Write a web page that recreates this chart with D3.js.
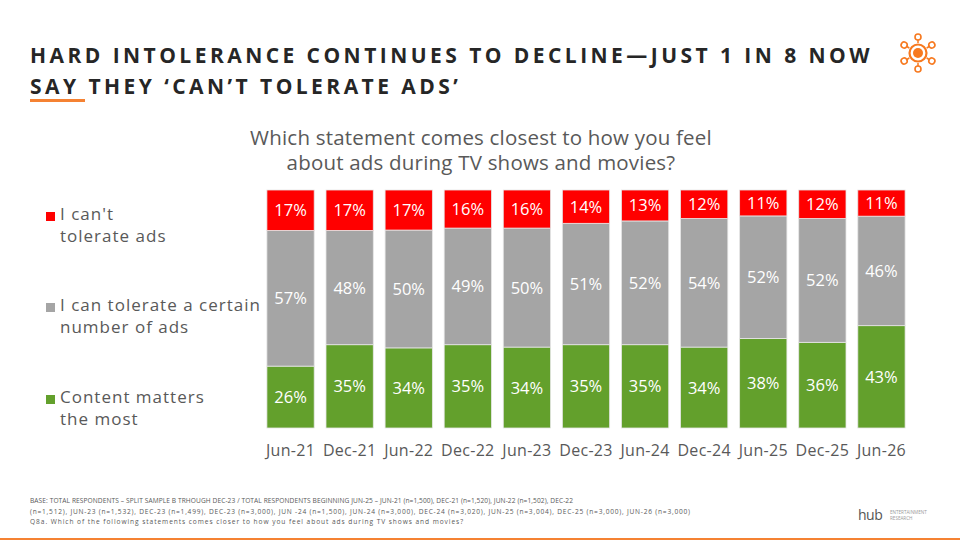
<!DOCTYPE html>
<html>
<head>
<meta charset="utf-8">
<script src="https://cdn.jsdelivr.net/npm/d3@7"></script>
<style>
  body { margin: 0; background: #fff; }
  svg { display: block; font-family: "Open Sans", "DejaVu Sans", sans-serif; }
</style>
</head>
<body>
<script>
var w = 960;
var h = 540;

// data
var waves = ["Jun-21", "Dec-21", "Jun-22", "Dec-22", "Jun-23", "Dec-23", "Jun-24", "Dec-24", "Jun-25", "Dec-25", "Jun-26"];
var cantTolerate = [17, 17, 17, 16, 16, 14, 13, 12, 11, 12, 11];
var tolerateSome = [57, 48, 50, 49, 50, 51, 52, 54, 52, 52, 46];
var contentMatters = [26, 35, 34, 35, 34, 35, 35, 34, 38, 36, 43];

var seriesNames = ["I can't tolerate ads", "I can tolerate a certain number of ads", "Content matters the most"];
var seriesColors = ["#ff0000", "#a5a5a5", "#63a02c"];

var titleLines = ["HARD INTOLERANCE CONTINUES TO DECLINE\u2014JUST 1 IN 8 NOW", "SAY THEY \u2018CAN\u2019T TOLERATE ADS\u2019"];
var questionLines = ["Which statement comes closest to how you feel", "about ads during TV shows and movies?"];
var legendLines = [["I can't", "tolerate ads"], ["I can tolerate a certain", "number of ads"], ["Content matters", "the most"]];
var baseLines = [
    "BASE: TOTAL RESPONDENTS \u2013 SPLIT SAMPLE B TRHOUGH DEC-23 / TOTAL RESPONDENTS BEGINNING JUN-25 \u2013 JUN-21 (n=1,500), DEC-21 (n=1,520), JUN-22 (n=1,502), DEC-22",
    "(n=1,512), JUN-23 (n=1,532), DEC-23 (n=1,499), DEC-23 (n=3,000), JUN -24 (n=1,500), JUN-24 (n=3,000), DEC-24 (n=3,020), JUN-25 (n=3,004), DEC-25 (n=3,000), JUN-26 (n=3,000)",
    "Q8a. Which of the following statements comes closer to how you feel about ads during TV shows and movies?"
];
var baseWidths = [543, 660, 433];

var rows = waves.map(function (d, i) {
    return { wave: d, red: cantTolerate[i], gray: tolerateSome[i], green: contentMatters[i] };
});
// stack bottom-up: green, gray, red; each bar normalised to its own total
var keys = ["green", "gray", "red"];
var keyColor = { red: seriesColors[0], gray: seriesColors[1], green: seriesColors[2] };
var stack = d3.stack().keys(keys).offset(d3.stackOffsetExpand);
var layers = stack(rows);

var svg = d3.select("body")
    .append("svg")
    .attr("width", w)
    .attr("height", h);

// title
svg.selectAll("text.title")
    .data(titleLines)
    .enter()
    .append("text")
    .attr("class", "title")
    .attr("x", 30)
    .attr("y", function (d, i) { return 63 + i * 31; })
    .attr("fill", "#262626")
    .attr("font-size", 21)
    .attr("font-weight", "bold")
    .attr("letter-spacing", 3.45)
    .text(function (d) { return d; });

svg.append("rect")
    .attr("x", 30).attr("y", 99).attr("width", 55).attr("height", 3)
    .attr("fill", "#f58233");

// logo (sun with pins)
var logo = svg.append("g").attr("transform", "translate(918,53)");
logo.append("circle").attr("r", 8.5).attr("fill", "none").attr("stroke", "#f7791f").attr("stroke-width", 2.2);
logo.append("circle").attr("r", 5).attr("fill", "#f7791f");
d3.range(6).forEach(function (k) {
    var g = logo.append("g").attr("transform", "rotate(" + (k * 60) + ")");
    g.append("line").attr("x1", 0).attr("y1", -10).attr("x2", 0).attr("y2", -13)
        .attr("stroke", "#f7791f").attr("stroke-width", 1.5);
    g.append("circle").attr("cx", 0).attr("cy", -16).attr("r", 3).attr("fill", "none")
        .attr("stroke", "#f7791f").attr("stroke-width", 1.6);
});

// question
svg.selectAll("text.q")
    .data(questionLines)
    .enter()
    .append("text")
    .attr("class", "q")
    .attr("x", 481)
    .attr("y", function (d, i) { return 145 + i * 25; })
    .attr("text-anchor", "middle")
    .attr("fill", "#595959")
    .attr("font-size", 20.5)
    .attr("letter-spacing", 0.2)
    .text(function (d) { return d; });

// scales
var x = d3.scaleBand().domain(waves).range([261, 911]).paddingInner(0.2).paddingOuter(0.1);
var y = d3.scaleLinear().domain([0, 1]).range([428, 190]);

var layer = svg.selectAll("g.layer")
    .data(layers)
    .enter()
    .append("g")
    .attr("class", "layer")
    .attr("fill", function (d) { return keyColor[d.key]; });

layer.selectAll("rect")
    .data(function (d) { return d; })
    .enter()
    .append("rect")
    .attr("x", function (d) { return x(d.data.wave); })
    .attr("y", function (d) { return y(d[1]); })
    .attr("width", x.bandwidth())
    .attr("height", function (d) { return y(d[0]) - y(d[1]); })
    .attr("stroke", "#e6e6e6")
    .attr("stroke-width", 0.8);

layer.selectAll("text")
    .data(function (l) { return l.map(function (d) { d.key = l.key; return d; }); })
    .enter()
    .append("text")
    .attr("x", function (d) { return x(d.data.wave) + x.bandwidth() / 2; })
    .attr("y", function (d) { return (y(d[0]) + y(d[1])) / 2 + 6; })
    .attr("text-anchor", "middle")
    .attr("fill", "#ffffff")
    .attr("font-size", 16.5)
    .text(function (d) { return d.data[d.key] + "%"; });

// x axis labels
var xAxis = d3.axisBottom(x).tickSize(0);
var ax = svg.append("g").attr("transform", "translate(0,445)").call(xAxis);
ax.select(".domain").remove();
ax.selectAll("text")
    .attr("fill", "#595959")
    .attr("font-size", 16)
    .attr("font-family", "\"Open Sans\", \"DejaVu Sans\", sans-serif")
    .attr("letter-spacing", 0.3)
    .attr("y", 0)
    .attr("dy", "0.71em");

// legend
var legendY = [212, 303, 395];
var leg = svg.selectAll("g.leg")
    .data(seriesNames)
    .enter()
    .append("g")
    .attr("class", "leg")
    .attr("transform", function (d, i) { return "translate(46," + legendY[i] + ")"; });
leg.append("rect")
    .attr("width", 9).attr("height", 9)
    .attr("fill", function (d, i) { return seriesColors[i]; });
leg.selectAll("text")
    .data(function (d, i) { return legendLines[i]; })
    .enter()
    .append("text")
    .attr("x", 14)
    .attr("y", function (d, i) { return 8 + i * 22; })
    .attr("fill", "#595959")
    .attr("font-size", 17)
    .attr("letter-spacing", 1)
    .text(function (d) { return d; });

// footnote
svg.selectAll("text.base")
    .data(baseLines)
    .enter()
    .append("text")
    .attr("class", "base")
    .attr("x", 30)
    .attr("y", function (d, i) { return 503 + i * 10.5; })
    .attr("fill", "#595959")
    .attr("font-size", 6.6)
    .attr("textLength", function (d, i) { return baseWidths[i]; })
    .attr("lengthAdjust", "spacing")
    .text(function (d) { return d; });

// hub logo
svg.append("text").attr("x", 858).attr("y", 520).attr("fill", "#555").attr("font-size", 14)
    .attr("letter-spacing", -0.5).text("hub");
svg.append("text").attr("x", 890).attr("y", 514).attr("fill", "#9a9a9a").attr("font-size", 4.6)
    .text("ENTERTAINMENT");
svg.append("text").attr("x", 890).attr("y", 520).attr("fill", "#9a9a9a").attr("font-size", 4.6)
    .text("RESEARCH");

svg.append("rect").attr("x", 0).attr("y", 538).attr("width", w).attr("height", 2).attr("fill", "#f58233");
</script>
</body>
</html>
